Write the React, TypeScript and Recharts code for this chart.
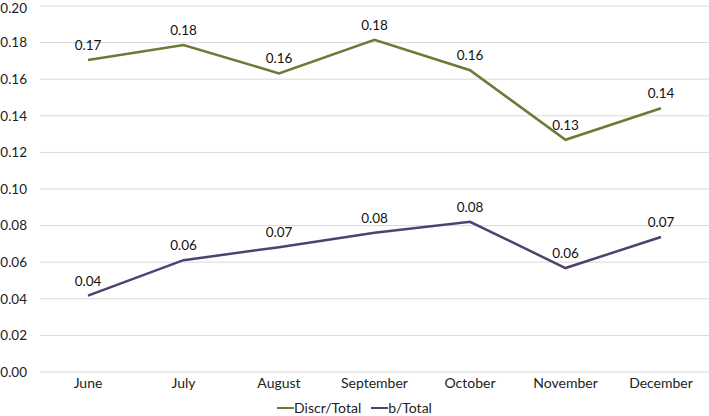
import React from "react";
import { LineChart, Line, XAxis, YAxis, CartesianGrid, Legend, LabelList } from "recharts";

const months = ["June", "July", "August", "September", "October", "November", "December"];
const discrTotal = [0.1705, 0.1787, 0.1632, 0.1815, 0.1649, 0.1269, 0.1441];
const bTotal = [0.0417, 0.0611, 0.0682, 0.0761, 0.0821, 0.0568, 0.0738];
const yTicks = [0, 0.02, 0.04, 0.06, 0.08, 0.1, 0.12, 0.14, 0.16, 0.18, 0.2];
const boundaryTicks = [0, 1, 2, 3, 4, 5, 6, 7];

const GREEN = "#6a7b36";
const PURPLE = "#4e4270";
const FONT = "Lato, 'Open Sans', sans-serif";

const data = months.map((m, i) => ({ month: m, discr: discrTotal[i], b: bTotal[i] }));

const fmt = (v: any) => Number(v).toFixed(2);

const LegendContent = (props: any) => {
  const items = props.payload || [];
  return (
    <div style={{ display: "flex", justifyContent: "center", fontFamily: FONT, fontSize: 14, color: "#222", paddingTop: 5 }}>
      {items.map((it: any) => (
        <div key={it.value} style={{ display: "flex", alignItems: "center", margin: "0 5px" }}>
          <svg width={17} height={10}>
            <line x1={0} y1={5} x2={17} y2={5} stroke={it.color} strokeWidth={2} />
          </svg>
          <span>{it.value}</span>
        </div>
      ))}
    </div>
  );
};

export default function App() {
  return (
    <div style={{ position: "absolute", left: 0, top: 0, width: 709, height: 416, background: "#fff" }}>
      <LineChart width={709} height={416} data={data} margin={{ top: 6, right: 0, bottom: 0, left: 0 }}>
        <CartesianGrid vertical={false} stroke="#d9d9d9" />
        <XAxis
          xAxisId="bounds"
          type="number"
          domain={[0, 7]}
          ticks={boundaryTicks}
          height={0}
          tick={false}
          tickSize={5}
          tickLine={{ stroke: "#d9d9d9" }}
          axisLine={{ stroke: "#d9d9d9" }}
        />
        <XAxis
          dataKey="month"
          height={22}
          tickLine={false}
          axisLine={false}
          tickSize={0}
          tickMargin={6}
          padding={{ left: 48, right: 48 }}
          tick={{ fontFamily: FONT, fontSize: 14, fill: "#222" }}
          interval={0}
        />
        <YAxis
          width={40}
          domain={[0, 0.2]}
          ticks={yTicks}
          tickFormatter={fmt}
          axisLine={false}
          tickLine={false}
          tickSize={0}
          tickMargin={13}
          tick={{ fontFamily: FONT, fontSize: 13.5, fill: "#222" }}
        />
        <Legend height={22} verticalAlign="bottom" content={<LegendContent />} />
        <Line
          name="Discr/Total"
          dataKey="discr"
          stroke={GREEN}
          strokeWidth={2.5}
          dot={false}
          isAnimationActive={false}
        >
          <LabelList dataKey="discr" position="top" offset={10} formatter={fmt} style={{ fontFamily: FONT, fontSize: 13.5, fill: "#111" }} />
        </Line>
        <Line
          name="b/Total"
          dataKey="b"
          stroke={PURPLE}
          strokeWidth={2.5}
          dot={false}
          isAnimationActive={false}
        >
          <LabelList dataKey="b" position="top" offset={10} formatter={fmt} style={{ fontFamily: FONT, fontSize: 13.5, fill: "#111" }} />
        </Line>
      </LineChart>
    </div>
  );
}
